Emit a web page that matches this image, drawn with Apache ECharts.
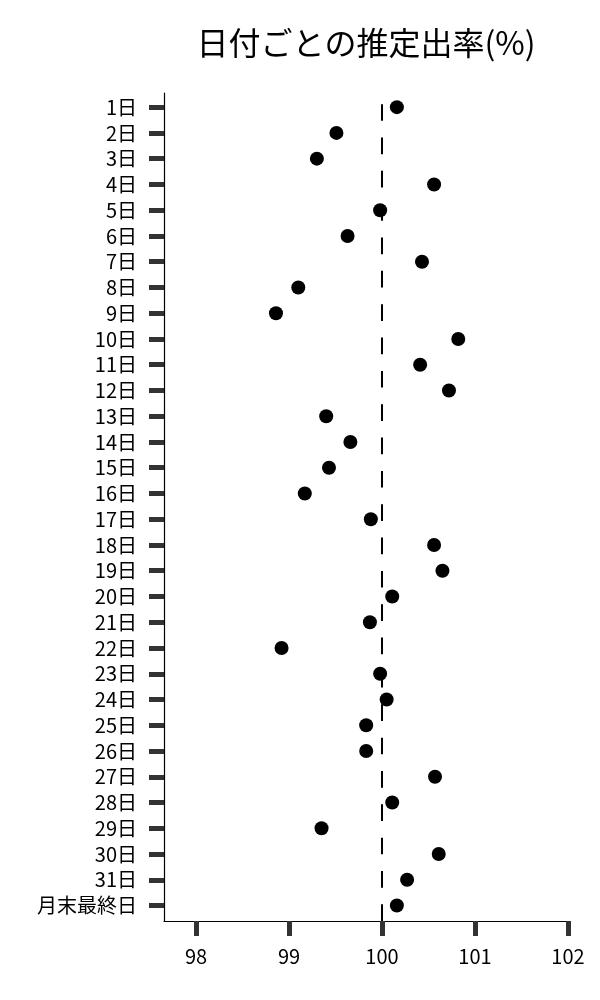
<!DOCTYPE html>
<html>
<head>
<meta charset="utf-8">
<script src="https://cdn.jsdelivr.net/npm/echarts@6/dist/echarts.min.js"></script>
<style>
html,body{margin:0;padding:0;background:#fff;}
#chart{width:600px;height:1000px;}
</style>
</head>
<body>
<div id="chart"></div>
<script>
const titleText = '日付ごとの推定出率(%)';
const days = ['1日','2日','3日','4日','5日','6日','7日','8日','9日','10日','11日','12日','13日','14日','15日','16日','17日','18日','19日','20日','21日','22日','23日','24日','25日','26日','27日','28日','29日','30日','31日','月末最終日'];
const rates = [100.16,99.51,99.30,100.56,99.98,99.63,100.43,99.10,98.86,100.82,100.41,100.72,99.40,99.66,99.43,99.17,99.88,100.56,100.65,100.11,99.87,98.92,99.98,100.05,99.83,99.83,100.57,100.11,99.35,100.61,100.27,100.16];
const xTicks = [98,99,100,101,102];
const refValue = 100;

const dayIdx = days.map((d,i)=>i);
const yMin = -0.55, yMax = days.length - 1 + 0.6;
const FONT = '"Noto Sans CJK JP", "Noto Sans", sans-serif';
const chart = echarts.init(document.getElementById('chart'), null, {renderer:'canvas'});
chart.setOption({
  animation:false,
  backgroundColor:'#fff',
  title:{
    text:titleText,
    left:361, top:22, textAlign:'center',
    textStyle:{fontFamily:FONT,fontSize:32,fontWeight:'normal',color:'#000'}
  },
  grid:{left:164,right:32,top:93,bottom:79,containLabel:false},
  xAxis:{
    type:'value', min:97.656, max:102, position:'bottom',
    splitLine:{show:false},
    axisLine:{show:true,onZero:false,lineStyle:{color:'#000',width:1.2}},
    axisTick:{show:true,customValues:xTicks,length:15,lineStyle:{color:'#333',width:5}},
    axisLabel:{customValues:xTicks,margin:25,fontFamily:FONT,fontSize:20,color:'#000'}
  },
  yAxis:{
    type:'value', inverse:true, min:yMin, max:yMax, position:'left',
    axisLine:{show:true,onZero:false,lineStyle:{color:'#000',width:1.2}},
    axisTick:{show:true,customValues:dayIdx,length:15,lineStyle:{color:'#333',width:5}},
    axisLabel:{customValues:dayIdx,margin:27,fontFamily:FONT,fontSize:20,color:'#000',
      formatter:(v)=>days[Math.round(v)]},
    splitLine:{show:false}
  },
  series:[{
    type:'scatter',
    data:rates.map((v,i)=>[v,i]),
    symbolSize:14,
    itemStyle:{color:'#000',opacity:1},
    markLine:{
      silent:true, symbol:'none', label:{show:false},
      lineStyle:{color:'#000',width:2,type:[16.67,16.67],dashOffset:0},
      data:[[{coord:[refValue,yMax]},{coord:[refValue,yMin]}]]
    }
  }]
});
</script>
</body>
</html>
